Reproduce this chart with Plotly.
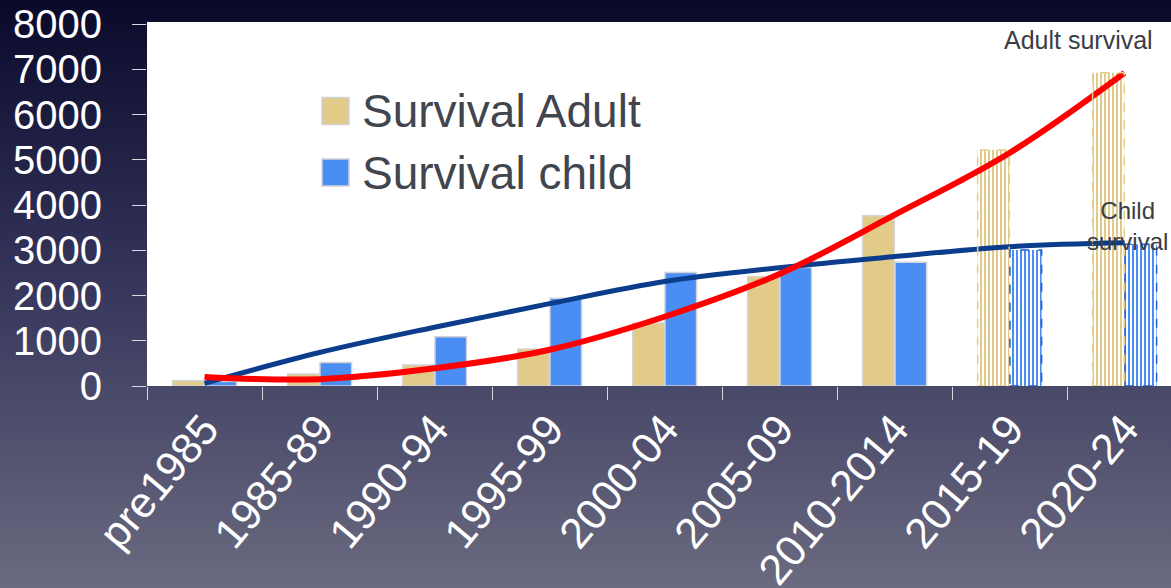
import base64
import plotly.graph_objects as go

# ---- data -------------------------------------------------------------
periods = ["pre1985", "1985-89", "1990-94", "1995-99", "2000-04",
           "2005-09", "2010-2014", "2015-19", "2020-24"]
adult_survival = [115, 265, 465, 815, 1390, 2420, 3760, 5215, 6925]
child_survival = [100, 520, 1090, 1940, 2510, 2620, 2735, 3005, 3130]
projected = [False, False, False, False, False, False, False, True, True]

adult_trend = [200, 150, 390, 800, 1530, 2475, 3780, 5150, 6920]
child_trend = [60, 740, 1300, 1820, 2310, 2615, 2860, 3080, 3165]

y_ticks = [0, 1000, 2000, 3000, 4000, 5000, 6000, 7000, 8000]

# ---- style ------------------------------------------------------------
W, H = 1171, 588
M_L, M_T, M_B, M_R = 147, 22, 202, 0
GOLD = "#E2CA89"
GOLD_EDGE = "#E3CC8E"
BLUE = "#4A8EF4"
BLUE_EDGE = "#1F5FD6"
BAR_W = 0.275
ADULT_OFF = -0.277
CHILD_OFF = 0.004
FONT = "Liberation Sans"

plot_w = W - M_L - M_R
plot_h = H - M_T - M_B


def px_to_paper(x=None, y=None):
    if x is not None:
        return (x - M_L) / plot_w
    return (H - M_B - y) / plot_h


def bar_style(base_color):
    # projected periods are drawn as vertical stripes of the series colour
    return dict(
        color=[base_color] * len(projected),
        line=dict(color=["rgba(0,0,0,0)" if p else "#D4D4D8" for p in projected],
                  width=[0 if p else 1.5 for p in projected]),
        pattern=dict(shape=["|" if p else "" for p in projected],
                     size=4, solidity=0.5, fillmode="replace"),
    )


fig = go.Figure()

fig.add_trace(go.Bar(
    x=periods, y=adult_survival, name="Survival Adult",
    width=BAR_W, offset=ADULT_OFF,
    marker=bar_style(GOLD),
    showlegend=False, hoverinfo="x+y",
))
fig.add_trace(go.Bar(
    x=periods, y=child_survival, name="Survival child",
    width=BAR_W, offset=CHILD_OFF,
    marker=bar_style(BLUE),
    showlegend=False, hoverinfo="x+y",
))

fig.add_trace(go.Scatter(
    x=periods, y=child_trend, mode="lines", name="Child survival",
    line=dict(color="#0B3D8C", width=5, shape="spline", smoothing=1.0),
    showlegend=False,
))
fig.add_trace(go.Scatter(
    x=periods, y=adult_trend, mode="lines", name="Adult survival",
    line=dict(color="#FF0000", width=6, shape="spline", smoothing=1.0),
    showlegend=False,
))

# dashed outlines around the projected (striped) bars
shapes = []
for i, p in enumerate(projected):
    if not p:
        continue
    shapes.append(dict(type="rect", xref="x", yref="y", layer="above",
                       x0=i + ADULT_OFF, x1=i + ADULT_OFF + BAR_W,
                       y0=0, y1=adult_survival[i],
                       line=dict(color=GOLD_EDGE, width=1.5, dash="dash")))
    shapes.append(dict(type="rect", xref="x", yref="y", layer="above",
                       x0=i + CHILD_OFF, x1=i + CHILD_OFF + BAR_W,
                       y0=0, y1=child_survival[i],
                       line=dict(color=BLUE_EDGE, width=1.5, dash="dash")))

# key boxes drawn as squares inside the plot area
key_items = [("Survival Adult", GOLD, 111), ("Survival child", BLUE, 172.5)]
annotations = []
for label, color, cy in key_items:
    shapes.append(dict(type="rect", xref="paper", yref="paper", layer="above",
                       x0=px_to_paper(x=322), x1=px_to_paper(x=349),
                       y0=px_to_paper(y=cy + 13.5), y1=px_to_paper(y=cy - 13.5),
                       fillcolor=color, line=dict(color="#D2D2D6", width=1.5)))
    annotations.append(dict(xref="paper", yref="paper",
                            x=px_to_paper(x=360), y=px_to_paper(y=cy),
                            xanchor="left", yanchor="middle", showarrow=False,
                            text=label, font=dict(family=FONT, size=46, color="#41454E")))

annotations.append(dict(xref="paper", yref="paper",
                        x=px_to_paper(x=1078), y=px_to_paper(y=40),
                        xanchor="center", yanchor="middle", showarrow=False,
                        text="Adult survival",
                        font=dict(family=FONT, size=25, color="#3A3D45")))
annotations.append(dict(xref="paper", yref="paper",
                        x=px_to_paper(x=1127), y=px_to_paper(y=226),
                        xanchor="center", yanchor="middle", showarrow=False,
                        align="center", text="Child<br>survival",
                        font=dict(family=FONT, size=24, color="#3A3D45")))

# page background: vertical dark-navy to slate gradient with the white plot panel
svg = (
    f'<svg xmlns="http://www.w3.org/2000/svg" width="{W}" height="{H}" '
    f'viewBox="0 0 {W} {H}" preserveAspectRatio="none">'
    '<defs><linearGradient id="g" x1="0" y1="0" x2="0" y2="1">'
    '<stop offset="0" stop-color="#09092A"/>'
    '<stop offset="0.45" stop-color="#33335A"/>'
    '<stop offset="1" stop-color="#6A6A80"/>'
    '</linearGradient></defs>'
    f'<rect width="{W}" height="{H}" fill="url(#g)"/>'
    f'<rect x="{M_L}" y="{M_T}" width="{plot_w}" height="{plot_h}" fill="#FFFFFF"/>'
    '</svg>'
)
bg_src = "data:image/svg+xml;base64," + base64.b64encode(svg.encode()).decode()

fig.update_layout(
    width=W, height=H,
    margin=dict(l=M_L, r=M_R, t=M_T, b=M_B, pad=0, autoexpand=False),
    paper_bgcolor="#3A3A5C",
    plot_bgcolor="white",
    barmode="group",
    shapes=shapes,
    annotations=annotations,
    images=[dict(source=bg_src, xref="paper", yref="paper",
                 x=-M_L / plot_w, y=1 + M_T / plot_h,
                 sizex=W / plot_w, sizey=H / plot_h,
                 xanchor="left", yanchor="top", sizing="stretch",
                 layer="below")],
    font=dict(family=FONT, color="white"),
    showlegend=False,
)

fig.update_xaxes(
    type="category", categoryorder="array", categoryarray=periods,
    range=[-0.5, -0.5 + plot_w / 115.0], automargin=False,
    tickson="boundaries", ticks="outside", ticklen=13, tickcolor="#D8D8DE",
    tickwidth=1, tickangle=-50, ticklabelstandoff=8,
    tickfont=dict(family=FONT, size=43, color="white"),
    showline=False, showgrid=False, zeroline=False,
)
fig.update_yaxes(
    range=[0, 8000 * plot_h / 362.0], automargin=False,
    tickvals=y_ticks, ticktext=[str(v) for v in y_ticks],
    ticks="outside", ticklen=14, tickcolor="#D8D8DE", tickwidth=1,
    ticklabelstandoff=22,
    tickfont=dict(family=FONT, size=40, color="white"),
    showline=False, showgrid=False, zeroline=False,
)

fig.write_html("out.html")
